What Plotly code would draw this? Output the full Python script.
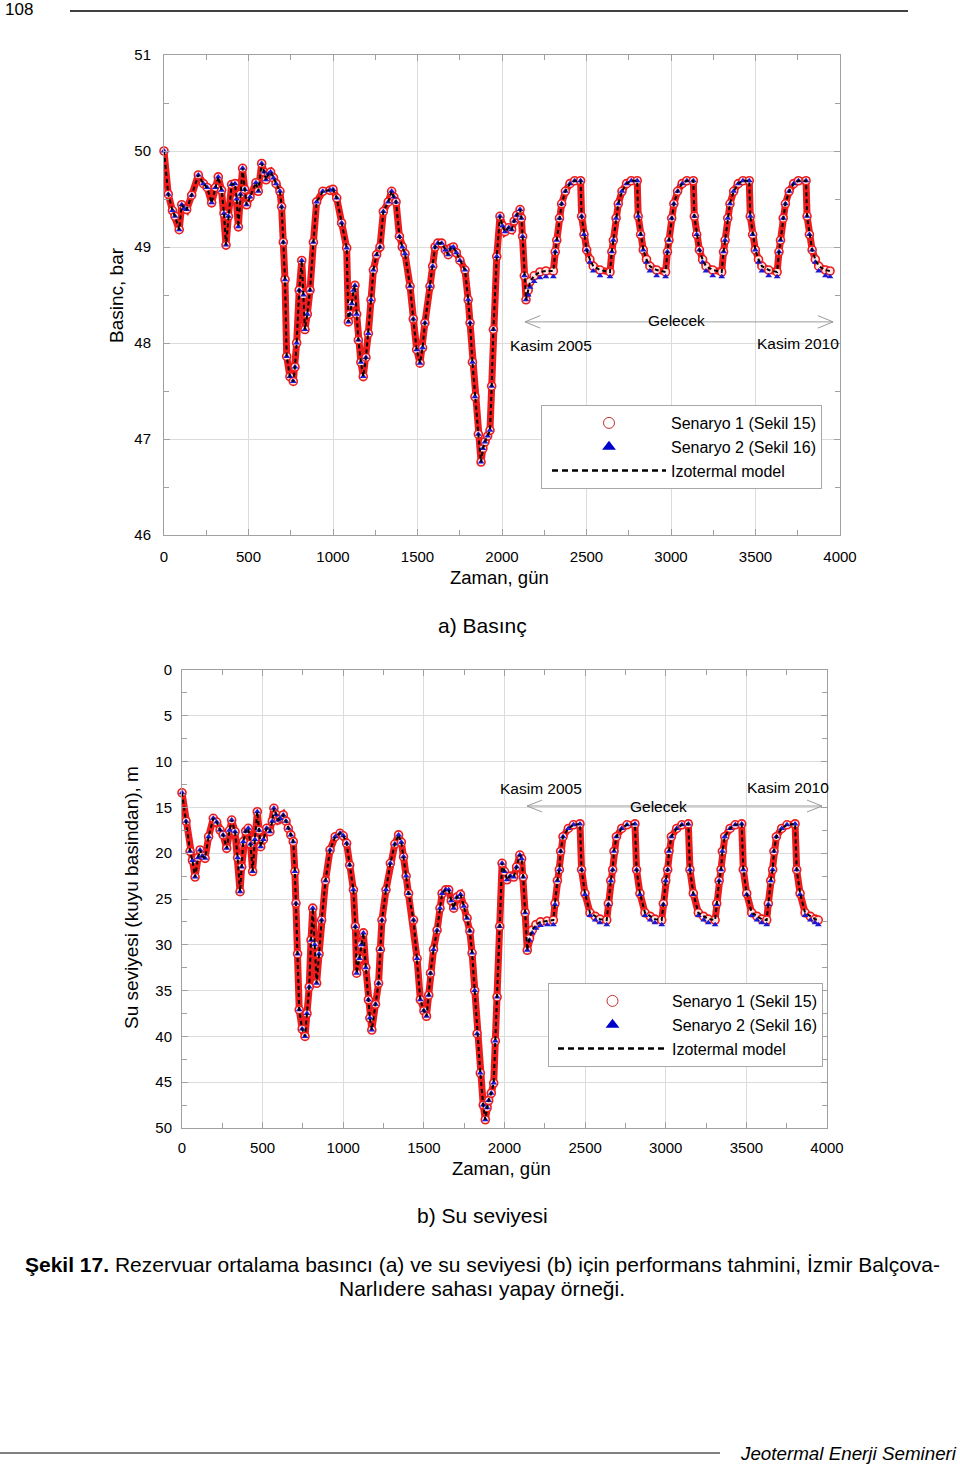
import plotly.graph_objects as go

# ---------------- DATA ----------------
# a) Pressure (bar) vs time (days)
gun_a = [0, 25, 50, 65, 90, 105, 120, 134, 164, 203,
         233, 255, 282, 305, 321, 341, 355, 367, 381, 400,
         420, 430, 440, 452, 465, 478, 489, 509, 544, 558,
         578, 592, 604, 618, 631, 648, 663, 686, 696, 706,
         716, 726, 745, 765, 775, 785, 800, 815, 825, 834,
         848, 864, 884, 903, 940, 982, 1000, 1022, 1051, 1081,
         1091, 1100, 1111, 1122, 1130, 1140, 1150, 1165, 1179, 1195,
         1209, 1225, 1239, 1258, 1278, 1298, 1327, 1347, 1360, 1373,
         1393, 1410, 1426, 1456, 1475, 1495, 1515, 1530, 1544, 1574,
         1590, 1604, 1620, 1643, 1665, 1682, 1698, 1712, 1730, 1751,
         1781, 1800, 1811, 1825, 1840, 1860, 1876, 1887, 1899, 1915,
         1929, 1939, 1949, 1969, 1988, 2003, 2018, 2040, 2057, 2072,
         2087, 2107, 2115, 2122, 2132, 2142, 2155, 2166, 2190, 2225,
         2260, 2304, 2315, 2324, 2340, 2353, 2375, 2402, 2430, 2465,
         2471, 2485, 2501, 2520, 2540, 2580, 2639, 2650, 2659, 2675,
         2688, 2710, 2737, 2765, 2800, 2806, 2820, 2836, 2855, 2875,
         2915, 2968, 2979, 2988, 3004, 3017, 3039, 3066, 3094, 3132,
         3138, 3152, 3168, 3187, 3207, 3247, 3300, 3311, 3320, 3336,
         3349, 3371, 3398, 3426, 3463, 3469, 3483, 3499, 3518, 3538,
         3578, 3628, 3639, 3648, 3664, 3677, 3699, 3726, 3754, 3799,
         3805, 3819, 3835, 3854, 3874, 3914, 3941]

# Senaryo 1 and izothermal model (practically identical)
basinc_model = [50.00, 49.55, 49.38, 49.32, 49.18, 49.44, 49.40, 49.39, 49.54, 49.75,
                49.66, 49.62, 49.46, 49.62, 49.73, 49.59, 49.35, 49.02, 49.32, 49.65,
                49.66, 49.50, 49.21, 49.55, 49.82, 49.60, 49.44, 49.52, 49.67, 49.58,
                49.87, 49.78, 49.70, 49.76, 49.78, 49.72, 49.66, 49.58, 49.42, 49.05,
                48.66, 47.86, 47.65, 47.60, 47.75, 48.00, 48.55, 48.86, 48.50, 48.14,
                48.30, 48.55, 49.05, 49.47, 49.58, 49.59, 49.60, 49.51, 49.25, 48.99,
                48.22, 48.30, 48.41, 48.55, 48.60, 48.30, 48.03, 47.80, 47.65, 47.85,
                48.10, 48.45, 48.76, 48.92, 49.00, 49.37, 49.47, 49.58, 49.52, 49.47,
                49.11, 49.00, 48.93, 48.59, 48.25, 47.93, 47.79, 47.95, 48.21, 48.59,
                48.80, 49.00, 49.04, 49.04, 48.97, 48.92, 48.99, 49.00, 48.94, 48.86,
                48.76, 48.45, 48.21, 47.80, 47.44, 47.05, 46.76, 46.90, 46.97, 47.03,
                47.09, 47.55, 48.14, 48.90, 49.32, 49.22, 49.16, 49.20, 49.18, 49.27,
                49.33, 49.39, 49.30, 49.11, 48.70, 48.45, 48.55, 48.64, 48.70, 48.74,
                48.75, 48.75, 48.95, 49.07, 49.30, 49.45, 49.58, 49.66, 49.69, 49.69,
                49.32, 49.13, 48.97, 48.87, 48.80, 48.76, 48.74, 48.95, 49.07, 49.30,
                49.45, 49.58, 49.66, 49.69, 49.69, 49.32, 49.13, 48.97, 48.87, 48.80,
                48.76, 48.74, 48.95, 49.07, 49.30, 49.45, 49.58, 49.66, 49.69, 49.69,
                49.32, 49.13, 48.97, 48.87, 48.80, 48.76, 48.74, 48.95, 49.07, 49.30,
                49.45, 49.58, 49.66, 49.69, 49.69, 49.32, 49.13, 48.97, 48.87, 48.80,
                48.76, 48.74, 48.95, 49.07, 49.30, 49.45, 49.58, 49.66, 49.69, 49.69,
                49.32, 49.13, 48.97, 48.87, 48.80, 48.76, 48.75]

basinc_s2 = [50.00, 49.55, 49.38, 49.32, 49.18, 49.44, 49.40, 49.39, 49.54, 49.75,
             49.66, 49.62, 49.46, 49.62, 49.73, 49.59, 49.35, 49.02, 49.32, 49.65,
             49.66, 49.50, 49.21, 49.55, 49.82, 49.60, 49.44, 49.52, 49.67, 49.58,
             49.87, 49.78, 49.70, 49.76, 49.78, 49.72, 49.66, 49.58, 49.42, 49.05,
             48.66, 47.86, 47.65, 47.60, 47.75, 48.00, 48.55, 48.86, 48.50, 48.14,
             48.30, 48.55, 49.05, 49.47, 49.58, 49.59, 49.60, 49.51, 49.25, 48.99,
             48.22, 48.30, 48.41, 48.55, 48.60, 48.30, 48.03, 47.80, 47.65, 47.85,
             48.10, 48.45, 48.76, 48.92, 49.00, 49.37, 49.47, 49.58, 49.52, 49.47,
             49.11, 49.00, 48.93, 48.59, 48.25, 47.93, 47.79, 47.95, 48.21, 48.59,
             48.80, 49.00, 49.04, 49.04, 48.97, 48.92, 48.99, 49.00, 48.94, 48.86,
             48.76, 48.45, 48.21, 47.80, 47.44, 47.05, 46.76, 46.90, 46.97, 47.03,
             47.09, 47.55, 48.14, 48.90, 49.32, 49.22, 49.16, 49.20, 49.18, 49.27,
             49.33, 49.39, 49.30, 49.11, 48.70, 48.45, 48.50, 48.58, 48.64, 48.68,
             48.69, 48.69, 48.95, 49.07, 49.30, 49.45, 49.58, 49.66, 49.69, 49.69,
             49.32, 49.13, 48.97, 48.84, 48.75, 48.70, 48.69, 48.95, 49.07, 49.30,
             49.45, 49.58, 49.66, 49.69, 49.69, 49.32, 49.13, 48.97, 48.84, 48.75,
             48.70, 48.69, 48.95, 49.07, 49.30, 49.45, 49.58, 49.66, 49.69, 49.69,
             49.32, 49.13, 48.97, 48.84, 48.75, 48.70, 48.69, 48.95, 49.07, 49.30,
             49.45, 49.58, 49.66, 49.69, 49.69, 49.32, 49.13, 48.97, 48.84, 48.75,
             48.70, 48.69, 48.95, 49.07, 49.30, 49.45, 49.58, 49.66, 49.69, 49.69,
             49.32, 49.13, 48.97, 48.84, 48.75, 48.70, 48.69]

# b) Water level (m below wellhead) vs time (days)
gun_b = [0, 25, 50, 65, 81, 100, 112, 125, 143, 165,
         194, 215, 236, 255, 277, 295, 308, 329, 345, 360,
         370, 380, 395, 411, 425, 438, 452, 467, 478, 488,
         505, 525, 545, 560, 570, 583, 597, 610, 628, 645,
         659, 675, 690, 700, 707, 717, 727, 745, 763, 775,
         789, 800, 811, 823, 835, 850, 866, 890, 918, 950,
         980, 1000, 1021, 1040, 1063, 1075, 1083, 1100, 1112, 1125,
         1140, 1156, 1165, 1177, 1200, 1219, 1230, 1240, 1265, 1292,
         1320, 1343, 1360, 1374, 1390, 1405, 1436, 1458, 1478, 1500,
         1516, 1530, 1541, 1560, 1582, 1600, 1613, 1635, 1654, 1670,
         1685, 1705, 1727, 1748, 1768, 1785, 1799, 1815, 1830, 1850,
         1868, 1881, 1892, 1902, 1918, 1933, 1943, 1954, 1970, 1985,
         2000, 2016, 2035, 2057, 2075, 2095, 2106, 2116, 2128, 2141,
         2155, 2172, 2195, 2223, 2265, 2303, 2313, 2328, 2340, 2348,
         2363, 2396, 2428, 2468, 2478, 2499, 2530, 2563, 2592, 2634,
         2644, 2659, 2671, 2679, 2694, 2727, 2760, 2809, 2819, 2840,
         2871, 2904, 2933, 2975, 2985, 3000, 3012, 3020, 3035, 3068,
         3100, 3140, 3150, 3171, 3202, 3235, 3264, 3306, 3316, 3331,
         3343, 3351, 3366, 3399, 3431, 3471, 3481, 3502, 3533, 3566,
         3595, 3626, 3636, 3651, 3663, 3671, 3686, 3719, 3752, 3802,
         3812, 3833, 3864, 3897, 3926, 3946]

seviye_model = [13.4, 16.5, 19.8, 20.8, 22.6, 20.5, 19.65, 20.3, 20.56, 18.2,
                16.19, 16.6, 17.47, 18.0, 19.47, 17.5, 16.38, 17.65, 20.5, 24.2,
                21.5, 18.74, 17.6, 17.28, 19.0, 22.0, 18.5, 15.47, 17.5, 19.29,
                18.5, 17.28, 17.65, 16.5, 15.1, 15.8, 16.38, 16.2, 15.83, 16.5,
                17.28, 18.0, 18.74, 22.0, 25.47, 31.0, 37.1, 39.2, 40.0, 37.5,
                34.6, 29.5, 26.0, 30.0, 34.2, 31.0, 27.3, 23.0, 19.65, 18.2,
                17.83, 18.1, 18.92, 21.3, 24.0, 28.0, 33.1, 31.5, 30.0, 28.7,
                32.5, 36.0, 38.0, 39.3, 36.5, 34.2, 30.5, 27.3, 24.0, 21.1,
                19.0, 18.0, 18.8, 20.4, 22.5, 24.4, 27.3, 31.5, 36.0, 37.2,
                37.8, 35.5, 33.1, 30.5, 28.4, 26.0, 24.4, 24.0, 24.0, 25.2,
                26.0, 24.8, 24.5, 25.8, 27.1, 28.5, 30.9, 35.0, 39.7, 44.0,
                47.5, 49.1, 47.8, 47.0, 46.2, 45.1, 40.5, 35.7, 28.0, 21.1,
                22.0, 22.9, 22.5, 22.6, 21.5, 20.2, 20.6, 22.6, 26.5, 30.6,
                29.3, 28.4, 27.8, 27.5, 27.4, 27.3, 25.5, 23.0, 21.8, 19.8,
                18.2, 17.3, 16.9, 16.8, 21.8, 24.4, 26.5, 26.9, 27.2, 27.3,
                25.5, 23.0, 21.8, 19.8, 18.2, 17.3, 16.9, 16.8, 21.8, 24.4,
                26.5, 26.9, 27.2, 27.3, 25.5, 23.0, 21.8, 19.8, 18.2, 17.3,
                16.9, 16.8, 21.8, 24.4, 26.5, 26.9, 27.2, 27.3, 25.5, 23.0,
                21.8, 19.8, 18.2, 17.3, 16.9, 16.8, 21.8, 24.4, 26.5, 26.9,
                27.2, 27.3, 25.5, 23.0, 21.8, 19.8, 18.2, 17.3, 16.9, 16.8,
                21.8, 24.4, 26.5, 26.9, 27.2, 27.3]

seviye_s2 = [13.4, 16.5, 19.8, 20.8, 22.6, 20.5, 19.65, 20.3, 20.56, 18.2,
             16.19, 16.6, 17.47, 18.0, 19.47, 17.5, 16.38, 17.65, 20.5, 24.2,
             21.5, 18.74, 17.6, 17.28, 19.0, 22.0, 18.5, 15.47, 17.5, 19.29,
             18.5, 17.28, 17.65, 16.5, 15.1, 15.8, 16.38, 16.2, 15.83, 16.5,
             17.28, 18.0, 18.74, 22.0, 25.47, 31.0, 37.1, 39.2, 40.0, 37.5,
             34.6, 29.5, 26.0, 30.0, 34.2, 31.0, 27.3, 23.0, 19.65, 18.2,
             17.83, 18.1, 18.92, 21.3, 24.0, 28.0, 33.1, 31.5, 30.0, 28.7,
             32.5, 36.0, 38.0, 39.3, 36.5, 34.2, 30.5, 27.3, 24.0, 21.1,
             19.0, 18.0, 18.8, 20.4, 22.5, 24.4, 27.3, 31.5, 36.0, 37.2,
             37.8, 35.5, 33.1, 30.5, 28.4, 26.0, 24.4, 24.0, 24.0, 25.2,
             26.0, 24.8, 24.5, 25.8, 27.1, 28.5, 30.9, 35.0, 39.7, 44.0,
             47.5, 49.1, 47.8, 47.0, 46.2, 45.1, 40.5, 35.7, 28.0, 21.1,
             22.0, 22.9, 22.5, 22.6, 21.5, 20.2, 20.6, 22.6, 26.5, 30.6,
             29.5, 28.7, 28.2, 27.9, 27.8, 27.8, 25.6, 23.0, 21.8, 19.8,
             18.2, 17.3, 16.9, 16.8, 21.8, 24.5, 26.8, 27.3, 27.6, 27.8,
             25.6, 23.0, 21.8, 19.8, 18.2, 17.3, 16.9, 16.8, 21.8, 24.5,
             26.8, 27.3, 27.6, 27.8, 25.6, 23.0, 21.8, 19.8, 18.2, 17.3,
             16.9, 16.8, 21.8, 24.5, 26.8, 27.3, 27.6, 27.8, 25.6, 23.0,
             21.8, 19.8, 18.2, 17.3, 16.9, 16.8, 21.8, 24.5, 26.8, 27.3,
             27.6, 27.8, 25.6, 23.0, 21.8, 19.8, 18.2, 17.3, 16.9, 16.8,
             21.8, 24.5, 26.8, 27.3, 27.6, 27.8]

x_ticks = [0, 500, 1000, 1500, 2000, 2500, 3000, 3500, 4000]
y_ticks_a = [46, 47, 48, 49, 50, 51]
y_ticks_b = [0, 5, 10, 15, 20, 25, 30, 35, 40, 45, 50]

seri_adlari = ["Senaryo 1 (Sekil 15)", "Senaryo 2 (Sekil 16)", "Izotermal model"]

# annotation anchors (data coordinates)
gelecek_a = dict(x0=2136, x1=3959, y=48.22, kasim05=(2290, 47.97), kasim10=(3751, 47.99), text=(3030, 48.23))
gelecek_b = dict(x0=2140, x1=3969, y=14.85, kasim05=(2226, 12.9), kasim10=(3758, 12.8), text=(2952, 14.85))

# ---------------- STYLE ----------------
FONT = "Arial, Liberation Sans, sans-serif"
RED = "#ee1c1c"
BLUE = "#1a1ad6"
GRID = "#dcdcdc"
FRAME = "#a0a0a0"

fig = go.Figure()


def add_series(xs, y_main, y_s2, xa, ya, leg):
    # Senaryo 1 : dense red open circles
    fig.add_trace(go.Scatter(x=xs, y=y_main, xaxis=xa, yaxis=ya, mode="lines+markers",
                             line=dict(color=RED, width=7),
                             marker=dict(symbol="circle", size=8, color="#ffe4e4",
                                         line=dict(color=RED, width=1.6)),
                             cliponaxis=False, showlegend=False, hoverinfo="skip"))
    # Senaryo 2 : blue triangles
    fig.add_trace(go.Scatter(x=xs, y=y_s2, xaxis=xa, yaxis=ya, mode="markers",
                             marker=dict(symbol="triangle-up", size=6, color=BLUE),
                             cliponaxis=False, showlegend=False, hoverinfo="skip"))
    # Izotermal model : black dashed
    fig.add_trace(go.Scatter(x=xs, y=y_main, xaxis=xa, yaxis=ya, mode="lines",
                             line=dict(color="black", width=2, dash="4px,3px"),
                             cliponaxis=False, showlegend=False, hoverinfo="skip"))
    # legend entries
    fig.add_trace(go.Scatter(x=[None], y=[None], xaxis=xa, yaxis=ya, mode="markers",
                             name=seri_adlari[0], legend=leg,
                             marker=dict(symbol="circle-open", size=11, color="#c03030",
                                         line=dict(width=1))))
    fig.add_trace(go.Scatter(x=[None], y=[None], xaxis=xa, yaxis=ya, mode="markers",
                             name=seri_adlari[1], legend=leg,
                             marker=dict(symbol="triangle-up", size=12, color="#0000cc")))
    fig.add_trace(go.Scatter(x=[None], y=[None], xaxis=xa, yaxis=ya, mode="lines",
                             name=seri_adlari[2], legend=leg,
                             line=dict(color="black", width=2.5, dash="6px,4px")))


add_series(gun_a, basinc_model, basinc_s2, "x", "y", "legend")
add_series(gun_b, seviye_model, seviye_s2, "x2", "y2", "legend2")

W, H = 960, 1466


def px_x(p):
    return p / W


def px_y(p):
    return 1 - p / H


axis_common = dict(showgrid=True, gridcolor=GRID, gridwidth=1, zeroline=False,
                   showline=True, linecolor=FRAME, linewidth=1, mirror="ticks",
                   ticks="inside", ticklen=6, tickcolor=FRAME, automargin=False,
                   tickfont=dict(family=FONT, size=15, color="black"))

fig.update_layout(
    width=W, height=H, margin=dict(l=0, r=0, t=0, b=0, autoexpand=False),
    paper_bgcolor="white", plot_bgcolor="white",
    font=dict(family=FONT, color="black"),
    xaxis=dict(domain=[px_x(164), px_x(840)], range=[0, 4000], anchor="y",
               tickvals=x_ticks, ticklabelstandoff=8,
               minor=dict(dtick=250, ticks="inside", ticklen=5, tickcolor=FRAME, showgrid=False),
               **axis_common),
    yaxis=dict(domain=[px_y(535), px_y(55)], range=[46, 51], anchor="x",
               tickvals=y_ticks_a, ticklabelstandoff=9,
               minor=dict(dtick=0.5, ticks="inside", ticklen=5, tickcolor=FRAME, showgrid=False),
               **axis_common),
    xaxis2=dict(domain=[px_x(182), px_x(827)], range=[0, 4000], anchor="y2",
                tickvals=x_ticks, ticklabelstandoff=6,
                minor=dict(dtick=250, ticks="inside", ticklen=5, tickcolor=FRAME, showgrid=False),
                **axis_common),
    yaxis2=dict(domain=[px_y(1128), px_y(670)], range=[50, 0], anchor="x2",
                tickvals=y_ticks_b, ticklabelstandoff=6,
                minor=dict(dtick=2.5, ticks="inside", ticklen=5, tickcolor=FRAME, showgrid=False),
                **axis_common),
    legend=dict(x=px_x(541), y=px_y(405), xanchor="left", yanchor="top",
                bgcolor="white", bordercolor="#a8a8a8", borderwidth=1,
                font=dict(family=FONT, size=16, color="black"), itemwidth=114,
                indentation=5, traceorder="normal"),
    legend2=dict(x=px_x(548), y=px_y(983), xanchor="left", yanchor="top",
                 bgcolor="white", bordercolor="#a8a8a8", borderwidth=1,
                 font=dict(family=FONT, size=16, color="black"), itemwidth=109,
                 indentation=4, traceorder="normal"),
)

annotations = []
shapes = []


def arrow_block(g, xa, ya, dx, dy):
    # line with open chevrons at both ends
    shapes.append(dict(type="line", xref=xa, yref=ya, x0=g["x0"], x1=g["x1"], y0=g["y"], y1=g["y"],
                       line=dict(color="#9a9a9a", width=1)))
    shapes.append(dict(type="path", xref=xa, yref=ya,
                       path=f"M {g['x0'] + dx},{g['y'] + dy} L {g['x0']},{g['y']} L {g['x0'] + dx},{g['y'] - dy}",
                       line=dict(color="#9a9a9a", width=1)))
    shapes.append(dict(type="path", xref=xa, yref=ya,
                       path=f"M {g['x1'] - dx},{g['y'] + dy} L {g['x1']},{g['y']} L {g['x1'] - dx},{g['y'] - dy}",
                       line=dict(color="#9a9a9a", width=1)))
    for key, label in (("kasim05", "Kasim 2005"), ("kasim10", "Kasim 2010"), ("text", "Gelecek")):
        xx, yy = g[key]
        annotations.append(dict(x=xx, y=yy, xref=xa, yref=ya, text=label, showarrow=False,
                                xanchor="center", yanchor="middle",
                                font=dict(family=FONT, size=15.5, color="black")))


arrow_block(gelecek_a, "x", "y", 90, 0.065)
arrow_block(gelecek_b, "x2", "y2", 93, 0.65)


def paper_text(x, y, text, size, angle=0, xanchor="center"):
    return dict(x=px_x(x), y=px_y(y), xref="paper", yref="paper", text=text, textangle=angle,
                xanchor=xanchor, yanchor="middle", showarrow=False,
                font=dict(family=FONT, size=size, color="black"))


# axis titles / captions (paper coordinates)
annotations += [
    paper_text(117, 295, "Basinc, bar", 19, -90),
    paper_text(131, 898, "Su seviyesi (kuyu basindan), m", 19, -90),
    paper_text(499, 577, "Zaman, gün", 18.5),
    paper_text(501, 1168, "Zaman, gün", 18.5),
    paper_text(482, 625, "a) Basınç", 21),
    paper_text(482, 1215, "b) Su seviyesi", 21),
    paper_text(482, 1264, "<b>Şekil 17.</b> Rezervuar ortalama basıncı (a) ve su seviyesi (b) için "
                          "performans tahmini, İzmir Balçova-", 21),
    paper_text(482, 1288, "Narlıdere sahası yapay örneği.", 21),
    paper_text(3, 10, "108", 17, xanchor="left"),
    paper_text(959, 1453, "<i>Jeotermal Enerji Semineri</i>", 18.8, xanchor="right"),
]

shapes += [
    dict(type="line", xref="paper", yref="paper", x0=px_x(70), x1=px_x(908), y0=px_y(11), y1=px_y(11),
         line=dict(color="black", width=1.5)),
    dict(type="line", xref="paper", yref="paper", x0=px_x(0), x1=px_x(720), y0=px_y(1453), y1=px_y(1453),
         line=dict(color="black", width=1)),
]

fig.update_layout(annotations=annotations, shapes=shapes)

# remove the browser's default page margin so the figure sits at the top-left corner
fig.write_html("out.html", config={"displayModeBar": False},
               post_script="document.body.style.margin='0px';document.body.style.overflow='hidden';")
